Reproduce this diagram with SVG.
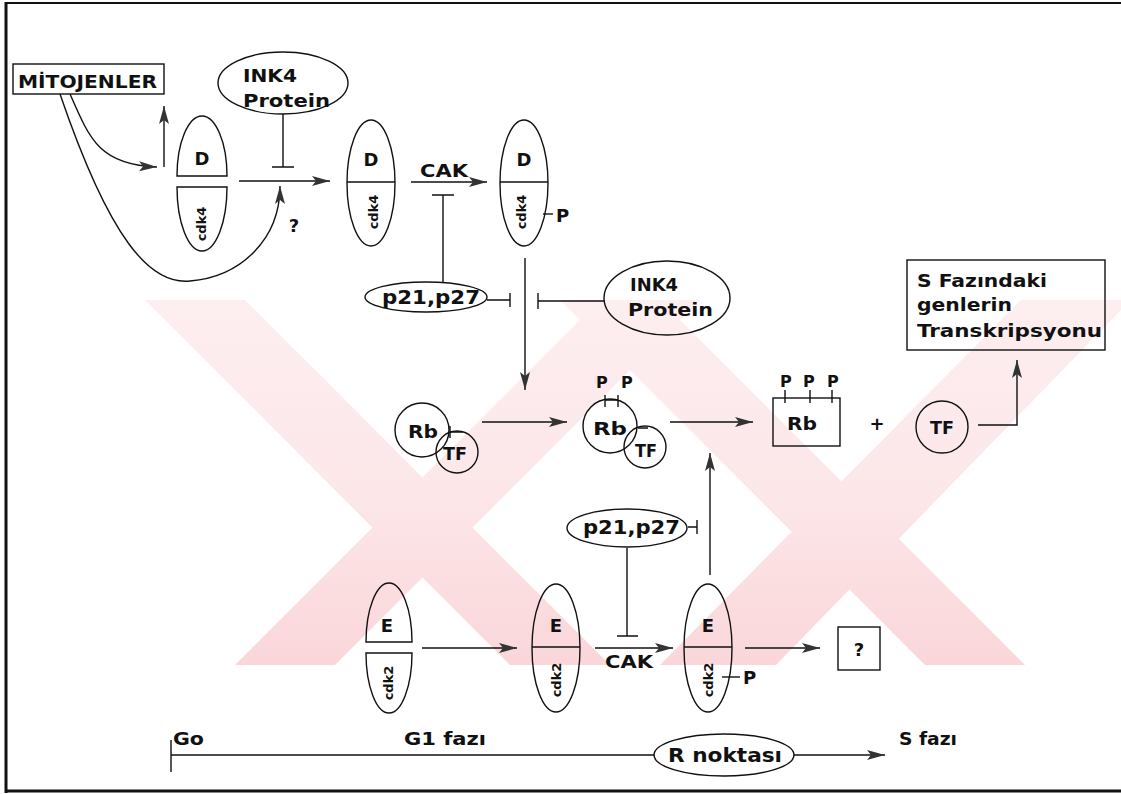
<svg xmlns="http://www.w3.org/2000/svg" width="1121" height="794" viewBox="0 0 1121 794">
<style>
.ln{stroke:#111;stroke-width:1.4;fill:none}
.sh{stroke:#111;stroke-width:1.4;fill:none}
.t{font-family:"DejaVu Sans",Verdana,sans-serif;font-weight:bold;fill:#111}
.c{font-family:"DejaVu Sans Condensed","DejaVu Sans",sans-serif;font-weight:bold;fill:#111}
.wm{fill:url(#wmg)}
</style>
<defs>
<linearGradient id="wmg" gradientUnits="userSpaceOnUse" x1="0" y1="300" x2="0" y2="665">
<stop offset="0" stop-color="#fdeef0"/>
<stop offset="0.55" stop-color="#fce6e8"/>
<stop offset="1" stop-color="#fad6d9"/>
</linearGradient>
<marker id="ah" markerUnits="userSpaceOnUse" markerWidth="20" markerHeight="12" refX="18" refY="6" orient="auto">
<path d="M0,1 L18,6 L0,11 L4,6 Z" fill="#333"/>
</marker>
</defs>
<rect width="1121" height="794" fill="#fff"/>
<g id="watermark">
<polygon class="wm" points="145,300 245,300 610,665 510,665"/>
<polygon class="wm" points="600,300 700,300 335,665 235,665"/>
<polygon class="wm" points="560,300 660,300 1025,665 925,665"/>
<polygon class="wm" points="1021,300 1121,300 1121,310 776,665 660,665"/>
</g>
<g id="frame">
<path d="M6,2 V793" stroke="#111" stroke-width="3"/>
<path d="M5,3 H1121" stroke="#111" stroke-width="2"/>
<path d="M5,791 H1121" stroke="#111" stroke-width="3"/>
</g>
<g id="connectors">
<path class="ln" d="M70,94 C90,140 100,165 157,167" marker-end="url(#ah)"/>
<path class="ln" d="M60,94 C110,240 150,285 190,281 C240,277 280,240 280,186" marker-end="url(#ah)"/>
<path class="ln" d="M164,167 L164,106" marker-end="url(#ah)"/>
<path class="ln" d="M283,114 L283,167 M272,167 L294,167"/>
<path class="ln" d="M239,181 L330,181" marker-end="url(#ah)"/>
<path class="ln" d="M411,182 L487,182" marker-end="url(#ah)"/>
<path class="ln" d="M432,195 L454,195 M443,195 L443,282"/>
<path class="ln" d="M487,300 L510,300 M510,293 L510,307"/>
<path class="ln" d="M604,301 L538,301 M538,293 L538,309"/>
<path class="ln" d="M525,258 L525,390" marker-end="url(#ah)"/>
<path class="ln" d="M543,214 L553,214"/>
<path class="ln" d="M482,422 L567,422" marker-end="url(#ah)"/>
<path class="ln" d="M670,422 L753,422" marker-end="url(#ah)"/>
<path class="ln" d="M710,575 L710,453" marker-end="url(#ah)"/>
<path class="ln" d="M688,527 L697,527 M697,520 L697,534"/>
<path class="ln" d="M627,548 L627,636 M617,636 L638,636"/>
<path class="ln" d="M422,648 L517,648" marker-end="url(#ah)"/>
<path class="ln" d="M595,648 L673,648" marker-end="url(#ah)"/>
<path class="ln" d="M745,648 L820,648" marker-end="url(#ah)"/>
<path class="ln" d="M722,677 L740,677"/>
<path class="ln" d="M978,425 L1017,425 L1017,360" marker-end="url(#ah)"/>
<path class="ln" d="M171,740 L171,772 M171,755 L654,755"/>
<path class="ln" d="M794,755 L885,755" marker-end="url(#ah)"/>
</g>
<g id="mitojenler">
<rect class="sh" x="13" y="64" width="151" height="30"/>
<text class="t" x="18" y="88" font-size="17" textLength="139" lengthAdjust="spacingAndGlyphs">MİTOJENLER</text>
</g>
<g id="ink4-top">
<ellipse class="sh" cx="283" cy="83" rx="65" ry="31"/>
<text class="t" x="243" y="82" font-size="18" textLength="54" lengthAdjust="spacingAndGlyphs">INK4</text>
<text class="t" x="243" y="107" font-size="18" textLength="87" lengthAdjust="spacingAndGlyphs">Protein</text>
</g>
<g id="d-cdk4-1">
<path class="sh" d="M177,176 A25,60 0 0 1 227,176 Z"/>
<path class="sh" d="M227,187 A25,64 0 0 1 177,187 Z"/>
<text class="t" x="202" y="165" font-size="18" text-anchor="middle">D</text>
<text class="t" transform="translate(201,224) rotate(-90)" font-size="13" text-anchor="middle" dominant-baseline="central">cdk4</text>
<text class="t" x="294" y="232" font-size="18" text-anchor="middle">?</text>
</g>
<g id="d-cdk4-2">
<ellipse class="sh" cx="371" cy="183" rx="24" ry="63"/>
<path class="sh" d="M347,182 L395,182"/>
<text class="t" x="371" y="166" font-size="18" text-anchor="middle">D</text>
<text class="t" transform="translate(373,212) rotate(-90)" font-size="13" text-anchor="middle" dominant-baseline="central">cdk4</text>
<text class="t" x="420" y="177" font-size="18" textLength="48" lengthAdjust="spacingAndGlyphs">CAK</text>
</g>
<g id="d-cdk4-3">
<ellipse class="sh" cx="524" cy="183" rx="24" ry="63"/>
<path class="sh" d="M500,182 L548,182"/>
<text class="t" x="524" y="166" font-size="18" text-anchor="middle">D</text>
<text class="t" transform="translate(521,212) rotate(-90)" font-size="13" text-anchor="middle" dominant-baseline="central">cdk4</text>
<text class="t" x="556" y="222" font-size="18">P</text>
</g>
<g id="p21-top">
<ellipse class="sh" cx="426" cy="297" rx="61" ry="15"/>
<text class="t" x="382" y="304" font-size="19" textLength="98" lengthAdjust="spacingAndGlyphs">p21,p27</text>
</g>
<g id="ink4-mid">
<ellipse class="sh" cx="667" cy="298" rx="63" ry="37"/>
<text class="t" x="630" y="291" font-size="18" textLength="48" lengthAdjust="spacingAndGlyphs">INK4</text>
<text class="t" x="628" y="316" font-size="18" textLength="85" lengthAdjust="spacingAndGlyphs">Protein</text>
</g>
<g id="s-genes">
<rect class="sh" x="907" y="260" width="198" height="90"/>
<text class="t" x="917" y="287" font-size="18" textLength="130" lengthAdjust="spacingAndGlyphs">S Fazındaki</text>
<text class="t" x="917" y="311" font-size="18" textLength="95" lengthAdjust="spacingAndGlyphs">genlerin</text>
<text class="t" x="917" y="337" font-size="18" textLength="185" lengthAdjust="spacingAndGlyphs">Transkripsyonu</text>
</g>
<g id="rb-tf-1">
<circle class="sh" cx="422" cy="430" r="27"/>
<circle class="sh" cx="457" cy="452" r="21"/>
<path class="ln" d="M450,426 L450,438 M450,432 L463,432"/>
<text class="t" x="423" y="438" font-size="18" text-anchor="middle" textLength="30" lengthAdjust="spacingAndGlyphs">Rb</text>
<text class="t" x="455" y="460" font-size="17" text-anchor="middle" textLength="24" lengthAdjust="spacingAndGlyphs">TF</text>
</g>
<g id="rb-tf-2">
<circle class="sh" cx="610" cy="426" r="27"/>
<circle class="sh" cx="645" cy="447" r="21"/>
<path class="ln" d="M638,428 L648,428 M605,395 L605,407 M618,395 L618,407 M605,400 L618,400"/>
<text class="t" x="596" y="388" font-size="16">P</text>
<text class="t" x="621" y="388" font-size="16">P</text>
<text class="t" x="610" y="435" font-size="18" text-anchor="middle" textLength="34" lengthAdjust="spacingAndGlyphs">Rb</text>
<text class="t" x="646" y="457" font-size="17" text-anchor="middle" textLength="22" lengthAdjust="spacingAndGlyphs">TF</text>
</g>
<g id="rb-box">
<rect class="sh" x="773" y="398" width="67" height="48"/>
<path class="ln" d="M785,390 L785,403 M810,390 L810,403 M832,390 L832,403"/>
<text class="t" x="780" y="387" font-size="16">P</text>
<text class="t" x="803" y="387" font-size="16">P</text>
<text class="t" x="827" y="387" font-size="16">P</text>
<text class="t" x="802" y="430" font-size="18" text-anchor="middle" textLength="30" lengthAdjust="spacingAndGlyphs">Rb</text>
<text class="t" x="877" y="430" font-size="18" text-anchor="middle">+</text>
</g>
<g id="tf-free">
<circle class="sh" cx="942" cy="427" r="26"/>
<text class="t" x="942" y="434" font-size="17" text-anchor="middle" textLength="24" lengthAdjust="spacingAndGlyphs">TF</text>
</g>
<g id="p21-bottom">
<ellipse class="sh" cx="627" cy="528" rx="60" ry="19"/>
<text class="t" x="583" y="534" font-size="19" textLength="97" lengthAdjust="spacingAndGlyphs">p21,p27</text>
</g>
<g id="e-cdk2-1">
<path class="sh" d="M366,642 A23,59 0 0 1 412,642 Z"/>
<path class="sh" d="M412,653 A23,60 0 0 1 366,653 Z"/>
<text class="t" x="387" y="632" font-size="18" text-anchor="middle">E</text>
<text class="t" transform="translate(388,683) rotate(-90)" font-size="13" text-anchor="middle" dominant-baseline="central">cdk2</text>
</g>
<g id="e-cdk2-2">
<ellipse class="sh" cx="556" cy="648" rx="24" ry="64"/>
<path class="sh" d="M532,647 L580,647"/>
<text class="t" x="556" y="632" font-size="18" text-anchor="middle">E</text>
<text class="t" transform="translate(556,680) rotate(-90)" font-size="13" text-anchor="middle" dominant-baseline="central">cdk2</text>
<text class="t" x="605" y="668" font-size="18" textLength="48" lengthAdjust="spacingAndGlyphs">CAK</text>
</g>
<g id="e-cdk2-3">
<ellipse class="sh" cx="708" cy="648" rx="24" ry="64"/>
<path class="sh" d="M684,647 L732,647"/>
<text class="t" x="708" y="632" font-size="18" text-anchor="middle">E</text>
<text class="t" transform="translate(708,680) rotate(-90)" font-size="13" text-anchor="middle" dominant-baseline="central">cdk2</text>
<text class="t" x="743" y="684" font-size="18">P</text>
</g>
<g id="unknown">
<rect class="sh" x="838" y="627" width="42" height="43"/>
<text class="t" x="859" y="656" font-size="18" text-anchor="middle">?</text>
</g>
<g id="timeline">
<text class="c" x="173" y="745" font-size="17" textLength="31" lengthAdjust="spacingAndGlyphs">Go</text>
<text class="c" x="404" y="745" font-size="17" textLength="82" lengthAdjust="spacingAndGlyphs">G1 fazı</text>
<text class="c" x="899" y="745" font-size="17" textLength="58" lengthAdjust="spacingAndGlyphs">S fazı</text>
</g>
<g id="r-noktasi">
<ellipse class="sh" cx="724" cy="755" rx="70" ry="21"/>
<text class="c" x="668" y="762" font-size="19" textLength="114" lengthAdjust="spacingAndGlyphs">R noktası</text>
</g>
</svg>
